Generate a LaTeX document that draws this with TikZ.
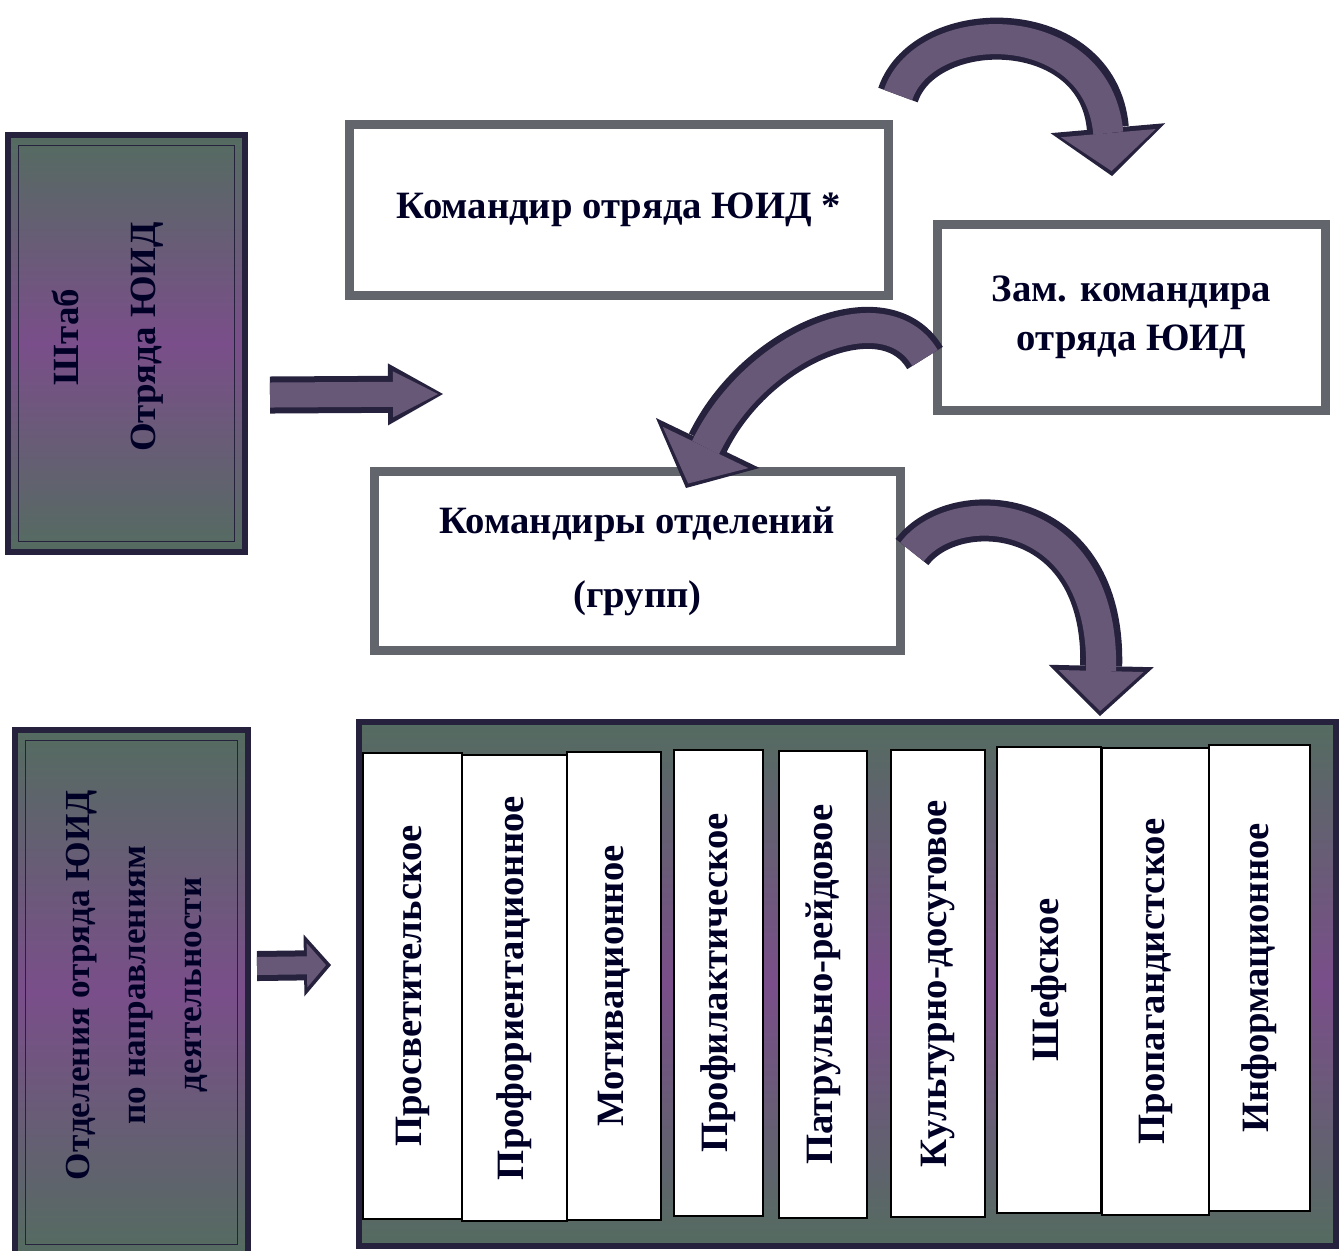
\documentclass[tikz,border=0pt]{standalone}
\usepackage{fontspec}
\setmainfont{Liberation Serif}
\usetikzlibrary{arrows.meta}

\definecolor{inkdark}{RGB}{38,34,62}
\definecolor{purp}{RGB}{122,78,138}
\definecolor{grn}{RGB}{84,108,96}
\definecolor{rimgray}{RGB}{98,102,108}
\definecolor{arrowfill}{RGB}{104,88,120}

\tikzset{
  panel/.style={draw=inkdark, line width=0.06cm, top color=grn, bottom color=grn, middle color=purp, inner sep=0pt},
  whitebox/.style={draw=rimgray, line width=0.09cm, fill=white, inner sep=0pt, align=center},
  lane/.style={draw=black, line width=0.02cm, fill=white, inner sep=0pt, rotate=90},
  lbl/.style={font=\fontsize{11}{14}\selectfont\bfseries, text=black!85!blue},
  rim/.style={draw=inkdark, line width=#1},
  core/.style={draw=arrowfill, line width=#1, shorten >=0.05cm},
}

\begin{document}
\begin{tikzpicture}[x=0.01cm, y=-0.01cm]
\useasboundingbox (0,0) rectangle (1339,1250);

% left panels
\node[panel, minimum width=2.37cm, minimum height=4.17cm] (shtab) at (126.5,343.5) {};
\node[panel, minimum width=2.33cm, minimum height=5.25cm] (otdel) at (131.5,992.5) {};
\foreach \p in {shtab,otdel}
  \draw[inkdark, line width=0.01cm] ([shift={(14,-14)}]\p.south west) rectangle ([shift={(-14,14)}]\p.north east);
\node[lbl, rotate=90, align=center, font=\fontsize{10.5}{13}\selectfont\bfseries] (shtabtxt) at (108,337) {Штаб\\[9pt]Отряда ЮИД};
\node[lbl, rotate=90, align=center, font=\fontsize{10}{16}\selectfont\bfseries] (otdeltxt) at (137,985) {Отделения отряда ЮИД\\по направлениям\\деятельности};

% white boxes
\node[whitebox, lbl, minimum width=5.38cm, minimum height=1.70cm] (kom) at (619,210) {Командир отряда ЮИД *};
\node[whitebox, lbl, minimum width=3.87cm, minimum height=1.85cm] (zam) at (1131.5,317.5) {Зам. командира\\отряда ЮИД};
\node[whitebox, lbl, minimum width=5.25cm, minimum height=1.78cm, font=\fontsize{11}{21}\selectfont\bfseries] (komotd) at (637.5,561) {Командиры отделений\\(групп)};

% directions
\node[panel, minimum width=9.77cm, minimum height=5.24cm] (board) at (847.5,984) {};
\foreach \i/\xa/\xb/\ya/\yb/\t in {
  1/363/462/753/1219/Просветительское,
  2/462/567/755/1221/Профориентационное,
  3/567/661/752/1220/Мотивационное,
  4/674/763/750/1216/Профилактическое,
  5/779/867/751/1218/Патрульно-рейдовое,
  6/891/985/750/1217/Культурно-досуговое,
  7/997/1101/747/1213/Шефское,
  8/1102/1209/748/1215/Пропагандистское,
  9/1209/1310/745/1211/Информационное}
  \node[lane, lbl, minimum width={(\yb-\ya)*0.01cm}, minimum height={(\xb-\xa)*0.01cm}] (lane\i) at ({(\xa+\xb)/2},{(\ya+\yb)/2}) {\t};

% arrows
\coordinate (s1a) at (270,395);
\coordinate (s1b) at (443,394);
\coordinate (s2a) at (257,966);
\coordinate (s2b) at (331,965);
\coordinate (c1a) at (898,95);
\coordinate (c1b) at (1112,176);
\coordinate (c2a) at (925,358);
\coordinate (c2b) at (686,488);
\coordinate (c3a) at (912,552);
\coordinate (c3b) at (1100,716);

\draw[rim=0.37cm, -{Triangle[length=0.55cm, width=0.62cm, line width=0pt]}] (s1a) -- (s1b);
\draw[core=0.25cm, -{Triangle[length=0.45cm, width=0.46cm, line width=0pt]}] (s1a) -- (s1b);
\draw[rim=0.30cm, -{Triangle[length=0.27cm, width=0.62cm, line width=0pt]}] (s2a) -- (s2b);
\draw[core=0.18cm, -{Triangle[length=0.19cm, width=0.44cm, line width=0pt]}] (s2a) -- (s2b);

\draw[rim=0.42cm, -{Triangle[length=0.48cm, width=1.15cm, line width=0pt]}] (c1a) .. controls (925,15) and (1098,15) .. (c1b);
\draw[core=0.30cm, -{Triangle[length=0.38cm, width=0.95cm, line width=0pt]}] (c1a) .. controls (925,15) and (1098,15) .. (c1b);
\draw[rim=0.42cm, -{Triangle[length=0.50cm, width=1.15cm, line width=0pt]}] (c2a) .. controls (885,290) and (755,345) .. (c2b);
\draw[core=0.30cm, -{Triangle[length=0.40cm, width=0.95cm, line width=0pt]}] (c2a) .. controls (885,290) and (755,345) .. (c2b);
\draw[rim=0.42cm, -{Triangle[length=0.50cm, width=1.05cm, line width=0pt]}] (c3a) .. controls (955,495) and (1105,505) .. (c3b);
\draw[core=0.30cm, -{Triangle[length=0.40cm, width=0.85cm, line width=0pt]}] (c3a) .. controls (955,495) and (1105,505) .. (c3b);
\end{tikzpicture}
\end{document}
